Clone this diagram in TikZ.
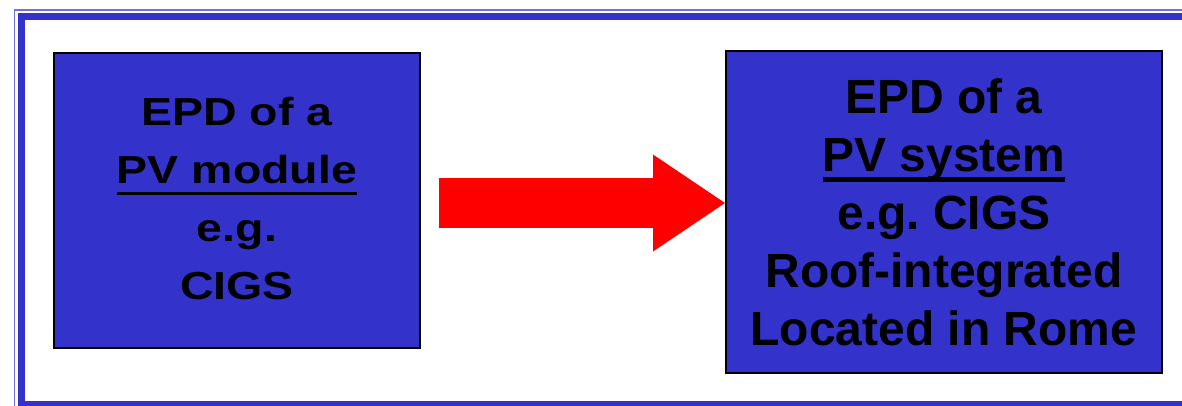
\documentclass[tikz,border=0pt]{standalone}
\usepackage{fontspec}
\usepackage{tikz}
\usetikzlibrary{arrows.meta, positioning, calc}
\definecolor{epdblue}{RGB}{51, 51, 204}
\definecolor{arrowred}{RGB}{255, 0, 0}
\newfontfamily\epdfont{Liberation Sans Bold}
\newcommand{\epdul}[3]{\setbox0\hbox{#1}\rlap{\rule[#2]{\wd0}{#3}}\box0}
\frenchspacing

\tikzset{
  epdbox/.style={draw=black, line width=2pt, fill=epdblue, align=center, inner sep=0pt, text=black},
  flowarrow/.style={draw=arrowred, line width=49pt, -{Triangle[length=72pt, width=97pt, line width=0pt]}}
}

\begin{document}
\begin{tikzpicture}[x=1pt, y=-1pt]
  \useasboundingbox (0,0) rectangle (1182,406);
  \clip (0,0) rectangle (1182,406);
  % double frame
  \draw[epdblue!70, line width=1.5pt] (14.5,10) rectangle (1210,412);
  \draw[epdblue, line width=7pt] (21.5,16.5) rectangle (1200,404.5);

  \node[epdbox, minimum width=366pt, minimum height=295pt, font=\epdfont\fontsize{46.5pt}{69pt}\selectfont] (modbox) at (237,200.5) {%
    \raisebox{-3pt}{\scalebox{1}[0.84]{\begin{tabular}{@{}c@{}}
      EPD of a\\
      \epdul{PV module}{-14pt}{4pt}\\
      e.g.\\
      CIGS
    \end{tabular}}}%
  };
  \node[epdbox, minimum width=436pt, minimum height=322pt, font=\epdfont\fontsize{48pt}{58pt}\selectfont] (sysbox) at (944,212) {
    EPD of a\\
    \epdul{PV system}{-10.5pt}{5pt}\\
    e.g. CIGS\\
    Roof-integrated\\
    Located in Rome
  };

  \coordinate (arrowstart) at ($(modbox.east)+(18,2.5)$);
  \draw[flowarrow] (arrowstart) -- (arrowstart -| sysbox.west);
\end{tikzpicture}
\end{document}
